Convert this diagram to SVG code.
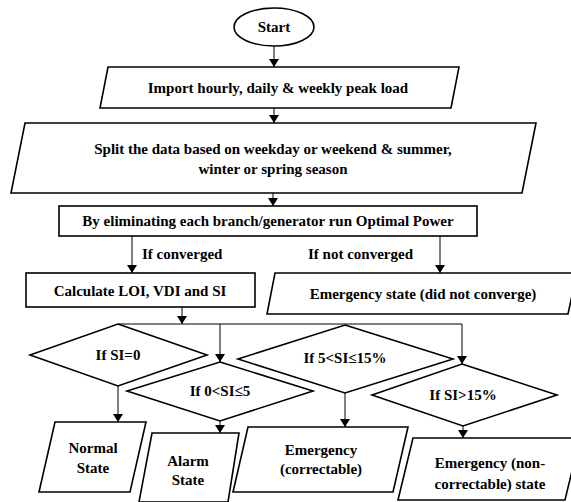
<svg xmlns="http://www.w3.org/2000/svg" width="571" height="502" viewBox="0 0 571 502">
  <defs>
    <marker id="arrow" viewBox="0 0 8 10" refX="8" refY="5" markerWidth="8" markerHeight="10" markerUnits="userSpaceOnUse" orient="auto">
      <path d="M0,0 L8,5 L0,10 Z" fill="#000"/>
    </marker>
  </defs>
  <style>
    .shape { fill: #fff; stroke: #000; stroke-width: 1.6; }
    .conn { fill: none; stroke: #000; stroke-width: 1; }
    .arr { marker-end: url(#arrow); }
    text { font-family: "Liberation Serif", "Times New Roman", serif; font-weight: bold; font-size: 15px; fill: #000; }
    .c { text-anchor: middle; }
  </style>
  <rect width="571" height="502" fill="#fff"/>

  <g id="connectors">
    <line class="conn arr" x1="274" y1="46" x2="274" y2="67"/>
    <line class="conn arr" x1="274" y1="108" x2="274" y2="123"/>
    <line class="conn arr" x1="273" y1="193" x2="273" y2="206"/>
    <line class="conn arr" x1="132" y1="236" x2="132" y2="273"/>
    <line class="conn arr" x1="440" y1="236" x2="440" y2="273"/>
    <line class="conn arr" x1="182" y1="307" x2="182" y2="324"/>
    <polyline class="conn" points="118,324 462,324"/>
    <line class="conn arr" x1="220" y1="324" x2="220" y2="362"/>
    <line class="conn arr" x1="462" y1="324" x2="462" y2="364"/>
    <line class="conn arr" x1="118" y1="386" x2="118" y2="422"/>
    <line class="conn arr" x1="220" y1="421" x2="220" y2="433"/>
    <line class="conn arr" x1="345" y1="393" x2="345" y2="427"/>
    <line class="conn arr" x1="463" y1="426" x2="463" y2="438"/>
    <text x="142" y="259">If converged</text>
    <text x="308" y="259">If not converged</text>
  </g>

  <g id="start">
    <ellipse class="shape" cx="274" cy="27" rx="40" ry="19"/>
    <text class="c" x="274" y="32">Start</text>
  </g>

  <g id="import-load">
    <polygon class="shape" points="108,67 459,67 451,108 100,108"/>
    <text class="c" x="278" y="93">Import hourly, daily &amp; weekly peak load</text>
  </g>

  <g id="split-data">
    <polygon class="shape" points="25,123 536,123 522,193 11,193"/>
    <text class="c" x="273" y="154">Split the data based on weekday or weekend &amp; summer,</text>
    <text class="c" x="273" y="174">winter or spring season</text>
  </g>

  <g id="run-opf">
    <rect class="shape" x="59" y="206" width="418" height="30"/>
    <text class="c" x="268" y="226">By eliminating each branch/generator run Optimal Power</text>
  </g>

  <g id="calculate">
    <rect class="shape" x="26" y="273" width="229" height="34"/>
    <text class="c" x="140" y="296">Calculate LOI, VDI and SI</text>
  </g>

  <g id="not-converged">
    <polygon class="shape" points="275,273 577,273 568,314 267,314"/>
    <text class="c" x="423" y="299">Emergency state (did not converge)</text>
  </g>

  <g id="si-zero">
    <polygon class="shape" points="118,324 207,355 118,386 30,355"/>
    <text class="c" x="118" y="360">If SI=0</text>
  </g>

  <g id="si-alarm">
    <polygon class="shape" points="220,362 313,391 220,421 127,391"/>
    <text class="c" x="220" y="396">If 0&lt;SI≤5</text>
  </g>

  <g id="si-correctable">
    <polygon class="shape" points="345,325 453,359 345,393 238,359"/>
    <text class="c" x="345" y="363">If 5&lt;SI≤15%</text>
  </g>

  <g id="si-high">
    <polygon class="shape" points="462,364 557,395 463,426 372,395"/>
    <text class="c" x="463" y="400">If SI&gt;15%</text>
  </g>

  <g id="normal-state">
    <polygon class="shape" points="55,422 146,422 130,492 39,492"/>
    <text class="c" x="93" y="453">Normal</text>
    <text class="c" x="93" y="473">State</text>
  </g>

  <g id="alarm-state">
    <polygon class="shape" points="152,433 239,433 228,502 139,502"/>
    <text class="c" x="188" y="466">Alarm</text>
    <text class="c" x="188" y="485">State</text>
  </g>

  <g id="emergency-correctable">
    <polygon class="shape" points="248,427 408,427 393,492 233,492"/>
    <text class="c" x="321" y="455">Emergency</text>
    <text class="c" x="321" y="474">(correctable)</text>
  </g>

  <g id="emergency-non-correctable">
    <polygon class="shape" points="413,438 580,438 565,500 398,500"/>
    <text class="c" x="490" y="468">Emergency (non-</text>
    <text class="c" x="490" y="489">correctable) state</text>
  </g>
</svg>
